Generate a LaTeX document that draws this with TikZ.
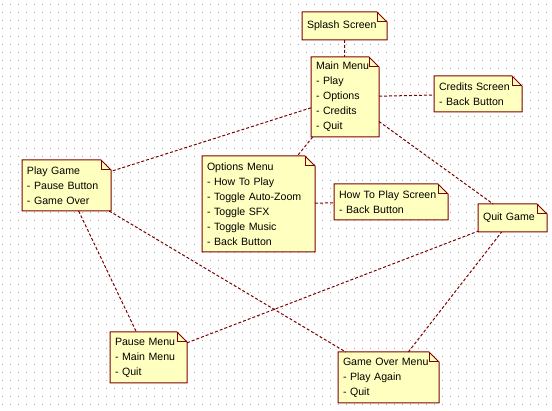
\documentclass[tikz,border=0pt]{standalone}
\usepackage{fontspec}
\setmainfont{Liberation Sans}
\usepackage{tikz}
\usetikzlibrary{positioning}
\pgfdeclarelayer{background}
\pgfsetlayers{background,main}
\definecolor{noteline}{RGB}{128,0,0}
\definecolor{notefill}{RGB}{255,255,192}
\definecolor{griddot}{RGB}{170,170,170}

\begin{document}
\begin{tikzpicture}[x=1pt,y=-1pt,
    note/.style={anchor=north west,align=left,inner xsep=5pt,inner ysep=0pt,outer sep=0pt,
      font=\fontsize{10.6}{15}\selectfont},
    notebox/.style={draw=noteline,fill=notefill,line width=1pt,line join=miter},
    link/.style={draw=noteline,line width=1pt,dash pattern=on 3pt off 2pt}]
  \useasboundingbox (0,0) rectangle (552,411);

  % screens
  \node[note,text width=75pt,minimum height=28pt] (splash) at (302,12) {Splash Screen};
  \node[note,text width=58pt,minimum height=80pt] (mainmenu) at (311,57) {Main Menu\\- Play\\- Options\\- Credits\\- Quit};
  \node[note,text width=78pt,minimum height=36pt] (credits) at (434,76) {Credits Screen\\- Back Button};
  \node[note,text width=79pt,minimum height=51pt] (playgame) at (22,160) {Play Game\\- Pause Button\\- Game Over};
  \node[note,text width=103pt,minimum height=96pt] (options) at (202,156) {Options Menu\\- How To Play\\- Toggle Auto-Zoom\\- Toggle SFX\\- Toggle Music\\- Back Button};
  \node[note,text width=104pt,minimum height=36pt] (howto) at (334,184) {How To Play Screen\\- Back Button};
  \node[note,text width=59pt,minimum height=28pt] (quitgame) at (478,204) {Quit Game};
  \node[note,text width=67pt,minimum height=51pt] (pause) at (110,332) {Pause Menu\\- Main Menu\\- Quit};
  \node[note,text width=91pt,minimum height=51pt] (gameover) at (338,352) {Game Over Menu\\- Play Again\\- Quit};

  % dotted grid and note shapes behind the text
  \begin{pgfonlayer}{background}
    \fill[white] (0,0) rectangle (552,411);
    \foreach \i in {0,...,68}
      \foreach \j in {0,...,50}
        \fill[griddot] (2+8*\i,4+8*\j) rectangle ++(1,1);
    \foreach \n in {splash,mainmenu,credits,playgame,options,howto,quitgame,pause,gameover} {
      \path[notebox] (\n.south west) -- (\n.north west) -- ([xshift=-10pt]\n.north east)
        -- ([yshift=-10pt]\n.north east) -- (\n.south east) -- cycle;
      \draw[noteline,line width=1pt] ([xshift=-10pt]\n.north east) |- ([yshift=-10pt]\n.north east);
    }
  \end{pgfonlayer}

  \path[link]
    (splash) edge (mainmenu)
    (mainmenu) edge (credits)
    (mainmenu) edge (playgame)
    (mainmenu) edge (options)
    (mainmenu) edge (quitgame)
    (options) edge (howto)
    (playgame) edge (pause)
    (playgame) edge (gameover)
    (pause) edge (quitgame)
    (gameover) edge (quitgame);
\end{tikzpicture}
\end{document}
